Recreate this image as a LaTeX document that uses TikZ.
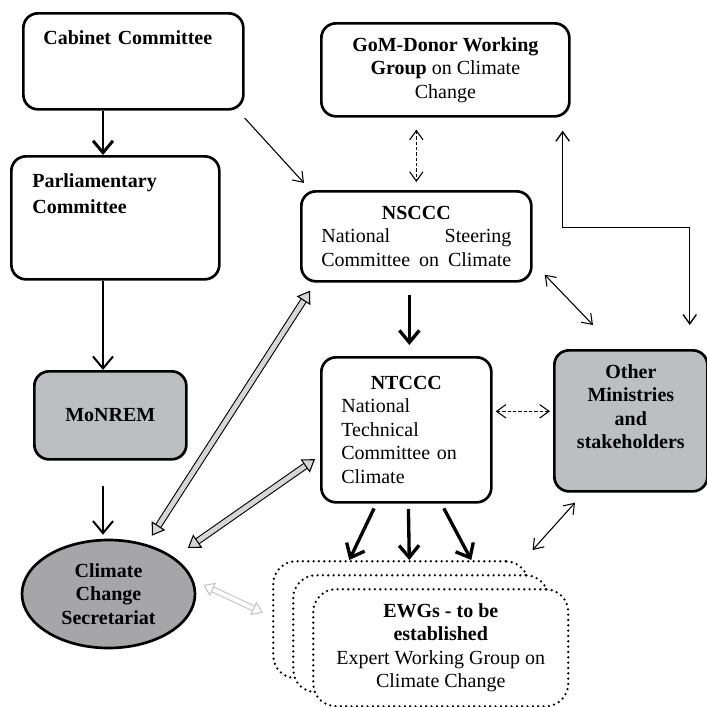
\documentclass[tikz,border=0pt]{standalone}
\usepackage{fontspec}
\setmainfont{Liberation Serif}
\usepackage{tikz}
\usetikzlibrary{arrows.meta,positioning,shapes.geometric,calc}
\usepackage{xcolor}
\definecolor{orgfill}{RGB}{189,190,193}
\definecolor{secfill}{RGB}{166,166,169}
\definecolor{linkfill}{RGB}{214,214,216}
\definecolor{faintline}{RGB}{196,196,196}
\tikzset{
  box/.style={draw,rounded corners=11pt,line width=2pt,fill=white,inner sep=0pt,anchor=north west},
  topbox/.style={box,align=left,inner ysep=0pt},
  orgbox/.style={box,fill=orgfill,align=center},
  ewg/.style={draw,rounded corners=17pt,line width=1.9pt,line cap=round,dash pattern=on 0pt off 4pt,fill=white,minimum width=191.25pt,minimum height=87.75pt,anchor=north west},
  mainarrow/.style={>={Straight Barb[length=9pt,width=15pt]},->},
  thinarrow/.style={line width=0.8pt,>={Straight Barb[length=7pt,width=10pt]}},
  linkarrow/.style={line width=0.8pt,double=linkfill,double distance=3.6pt,>={Triangle[length=9pt,width=12pt,line width=0.8pt,fill=linkfill]},<->},
  faintlink/.style={line width=0.8pt,draw=faintline,double=white,double distance=3pt,>={Triangle[length=8pt,width=11pt,line width=0.8pt,fill=white]},<->},
}

\begin{document}
\begin{tikzpicture}[x=0.75pt,y=-0.75pt,font=\fontsize{15}{17.6}\selectfont]
  \useasboundingbox (0,0) rectangle (707,707);
  \coordinate (spine) at (103,0);
  % left column
  \node[topbox,text width=135pt,inner xsep=15pt,text height=23pt,text depth=49pt] (cab) at (22,12) {\textbf{Cabinet Committee}};
  \node[topbox,text width=124.5pt,inner xsep=15.75pt,text height=23.25pt,text depth=69pt] (parl) at (10,155) {\textbf{Parliamentary}\\[1.7pt]\textbf{Committee}};
  \node[orgbox,minimum width=114pt,minimum height=66pt] (mon) at (33,370) {\textbf{MoNREM}};
  \node[ellipse,draw,line width=2pt,fill=secfill,inner sep=0pt,minimum width=129.75pt,minimum height=81pt,align=center] (sec) at (108.5,594) {\textbf{Climate}\\\textbf{Change}\\\textbf{Secretariat}};
  % right column
  \node[box,align=center,minimum width=186pt,minimum height=69.75pt] (gom) at (320,22) {\textbf{GoM-Donor Working}\\\textbf{Group} on Climate\\Change};
  \node[box,align=center,minimum width=172.5pt,minimum height=67.5pt] (nsc) at (300,190) {\textbf{NSCCC}\\\makebox[142.5pt][s]{National Steering}\\\makebox[142.5pt][s]{Committee on Climate}};
  \node[box,align=left,text width=97.5pt,inner xsep=15pt,minimum height=108.75pt] (ntc) at (320,356) {\makebox[97.5pt]{\textbf{NTCCC}}\\National\\Technical\\Committee on\\Climate};
  \node[orgbox,text width=110pt,inner xsep=2.4pt,inner ysep=0pt,text height=21pt,text depth=84.75pt] (oth) at (553,349) {\textbf{Other}\\\textbf{Ministries}\\\textbf{and}\\\textbf{stakeholders}};
  % expert groups, back to front
  \node[ewg] (ewgA) at (272,560) {};
  \node[ewg] (ewgB) at (292,574) {};
  \node[ewg,align=center] (ewgC) at (312,588) {\textbf{EWGs - to be}\\\textbf{established}\\Expert Working Group on\\Climate Change};

  % hierarchy
  \draw[mainarrow,line width=2.2pt] (cab.south -| spine) -- (parl.north -| spine);
  \draw[mainarrow,line width=1.5pt] (parl.south -| spine) -- (mon.north -| spine);
  \draw[mainarrow,line width=1.5pt,shorten <=19pt,shorten >=3pt] (mon.south -| spine) -- (sec.north -| spine);
  \draw[mainarrow,line width=2.5pt,shorten <=9pt,shorten >=8.25pt] ([xshift=-5.25pt]nsc.south) -- ([xshift=-5.25pt]nsc.south |- ntc.north);
  \draw[mainarrow,line width=2.5pt,shorten <=4pt] ([xshift=-22.5pt]ntc.south) -- ([xshift=-38.6pt]ewgA.north);
  \draw[mainarrow,line width=2.5pt,shorten <=4pt] ([xshift=1.5pt]ntc.south) -- ([xshift=6.4pt]ewgA.north);
  \draw[mainarrow,line width=2.5pt,shorten <=4pt] ([xshift=26.25pt]ntc.south) -- ([xshift=52.9pt]ewgA.north);

  % thin links
  \draw[thinarrow,->] ([yshift=-5.5pt]cab.south east) -- ([xshift=3pt,yshift=5.25pt]nsc.north west);
  \draw[thinarrow,<->,dash pattern=on 2.5pt off 1.5pt,shorten <=9pt,shorten >=6pt] (nsc.north |- gom.south) -- (nsc.north);
  \draw[thinarrow,<->,line width=1pt,shorten <=9.75pt,shorten >=18pt] ([xshift=-6pt]gom.south east) -- ++(0,110) -| ([xshift=-14.25pt]oth.north east);
  \draw[thinarrow,<->] ([xshift=9pt,yshift=6pt]nsc.south east) -- ([xshift=30pt,yshift=18pt]oth.north west);
  \draw[thinarrow,<->,dash pattern=on 2.5pt off 1.5pt,shorten <=2.25pt,shorten >=2.25pt] ([yshift=13.9pt]ntc.east) -- ([yshift=13.9pt]ntc.east -| oth.west);
  \draw[thinarrow,<->] ([xshift=16.5pt,yshift=-7.5pt]oth.south west) -- ([xshift=2.25pt,yshift=7.5pt]ewgA.north east);

  % secretariat links
  \draw[linkarrow] ([xshift=32.6pt,yshift=2.25pt]sec.north) -- ([xshift=7.5pt,yshift=-6pt]nsc.south west);
  \draw[linkarrow] ([xshift=11pt,yshift=6.5pt]sec.30) -- ([xshift=-3.75pt,yshift=-22pt]ntc.west);
  \draw[faintlink] ([xshift=5.25pt,yshift=6.75pt]sec.east) -- ([xshift=-6.75pt,yshift=5.25pt]ewgA.west);
\end{tikzpicture}
\end{document}
